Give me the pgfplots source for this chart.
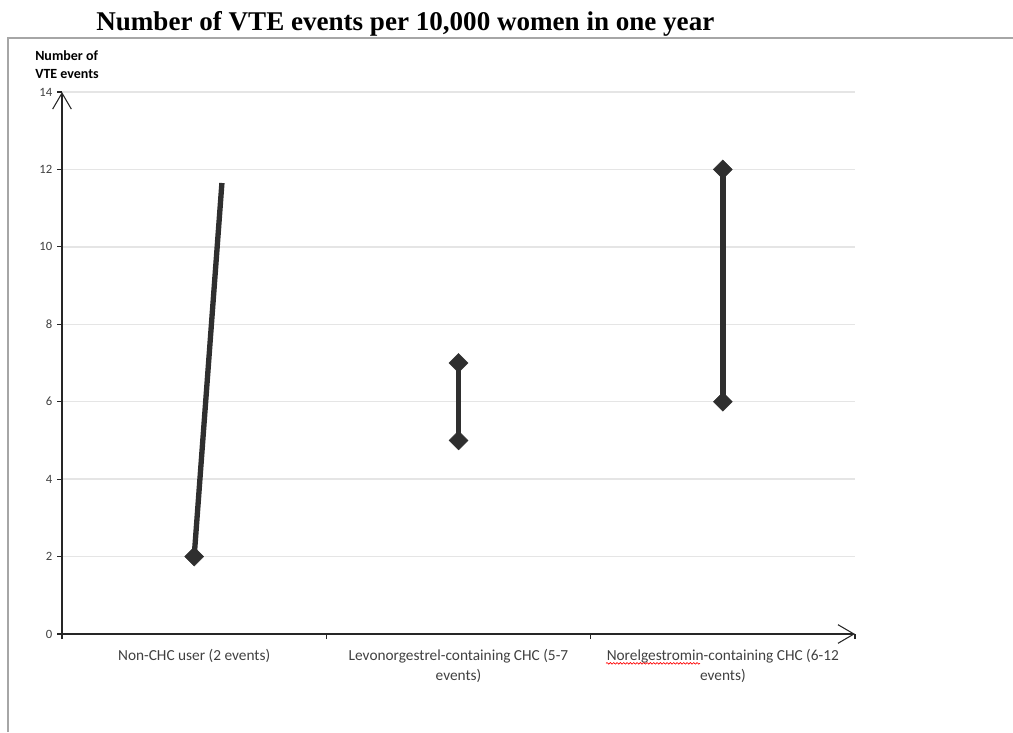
\documentclass[border=0pt]{standalone}
\usepackage{pgfplots}
\pgfplotsset{compat=1.18}
\usepackage{fontspec}
\setmainfont{Carlito}
\newfontfamily\titlefont{Liberation Serif}
\usetikzlibrary{arrows.meta,decorations.pathmorphing}
\definecolor{ser}{HTML}{2F2F2F}
\definecolor{lab}{HTML}{404040}
\begin{document}
\begin{tikzpicture}
\path[use as bounding box] (0,0) rectangle (759.75pt,-549pt);
\draw[color=black!35, line width=1.5pt] (6pt,-549pt) -- (6pt,-28.5pt) -- (759.75pt,-28.5pt);
\node[anchor=base, font=\titlefont\bfseries\fontsize{20.3}{22}\selectfont] at (304pt,-22.5pt) {Number of VTE events per 10,000 women in one year};
\node[anchor=base west, font=\bfseries\fontsize{10.5}{12}\selectfont, inner sep=0pt] at (26.25pt,-45pt) {Number of};
\node[anchor=base west, font=\bfseries\fontsize{10.5}{12}\selectfont, inner sep=0pt] at (26.25pt,-58.5pt) {VTE events};
\begin{axis}[
  at={(46.5pt,-475.5pt)}, anchor=south west,
  scale only axis, width=594.75pt, height=406.5pt,
  xmin=0, xmax=3, ymin=0, ymax=14,
  axis lines=left,
  axis line style={line width=0.8pt, color=black!85},
  x axis line style={-{Straight Barb[length=12pt,width=14pt,line width=0.8pt]}},
  y axis line style={-{Straight Barb[length=12pt,width=14pt,line width=0.8pt]}},
  xtick={0,1,2,3}, x tick label as interval,
  xticklabels={{Non-CHC user (2 events)},{Levonorgestrel-containing CHC (5-7\\events)},{Norelgestromin-containing CHC (6-12\\events)}},
  ytick={0,2,...,14},
  tick align=outside, major tick length=3.75pt,
  tick style={line width=0.8pt, color=black!85},
  ymajorgrids, major grid style={color=black!10, line width=1pt},
  /pgf/number format/assume math mode=true,
  yticklabel style={font=\fontsize{9.5}{11}\selectfont, color=lab},
  xticklabel style={font=\fontsize{11.5}{15}\selectfont, color=lab, align=center, yshift=-4pt},
  clip=false,
]
\addplot[color=ser, line width=4pt] coordinates {(0.5,2) (0.605,11.65)};
\addplot[color=ser, only marks, mark=square*, mark size=5pt, mark options={rotate=45, line width=0.4pt}] coordinates {(0.5,2)};
\addplot[color=ser, line width=4pt, mark=square*, mark size=5pt, mark options={rotate=45, line width=0.4pt}] coordinates {(1.5,5) (1.5,7)};
\addplot[color=ser, line width=4pt, mark=square*, mark size=5pt, mark options={rotate=45, line width=0.4pt}] coordinates {(2.5,6) (2.5,12)};
\end{axis}
\draw[red, line width=0.5pt, decorate, decoration={snake, amplitude=0.6pt, segment length=2.5pt}] (454.5pt,-497.5pt) -- (525pt,-497.5pt);
\end{tikzpicture}
\end{document}
